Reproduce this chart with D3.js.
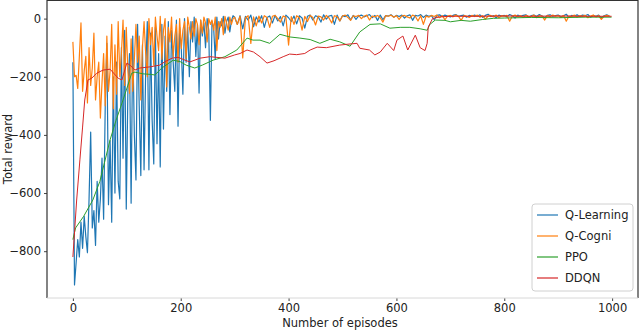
<!DOCTYPE html>
<html>
<head>
<meta charset="utf-8">
<script src="https://cdn.jsdelivr.net/npm/d3@7"></script>
<style>
  body { margin: 0; background: #fff; }
  text { font-family: "DejaVu Sans", sans-serif; fill: #222; }
</style>
</head>
<body>
<div id="chart"></div>
<script>
var fineEpisodes = d3.range(0, 300, 3);
var coarseEpisodes = d3.range(300, 1000, 5);

var qLearningReward = [
  -150, -916, -840, -760, -820, -700, -790, -680, -750, -805,
  -620, -390, -720, -660, -780, -560, -700, -620, -480, -690,
  -300, -85, -640, -420, -700, -200, -600, -150, -560, -620,
  -100, -480, -40, -655, -250, -120, -635, -60, -400, -555,
  -20, -300, -540, -90, -520, -180, -10, -520, -50, -350,
  -500, -30, -430, -120, -510, -20, -380, -60, -250, -10,
  -330, -40, -150, -250, -5, -370, -30, -100, -260, 0,
  -150, -30, -200, -10, -80, 5, -130, -20, -256, -5,
  -60, -15, -100, 0, -40, -350, -10, -30, -140, 5,
  -70, -10, -25, 8, -50, -10, 5, -46, -8, 10,
  // 300 .. 995
  5, -20, 10, -35, 8, -5, 12, -28, 6, -12,
  10, -30, 4, 9, -15, 11, -8, 7, -25, 12,
  3, -10, 9, -18, 10, 2, -33, 8, 12, -5,
  10, 6, -12, 13, -2, 9, 11, -20, 12, -8,
  10, 7, 13, -5, 11, -3, 9, 12, 6, 10,
  14, 3, 11, -6, 12, -4, 10, 9, 13, 5,
  11, 7, 12, 2, 10, 13, -6, 11, 9, 14,
  4, 12, 8, 10, -4, 11, 13, 7, 12, 9,
  6, 11, 14, 8, 10, 12, 5, 11, 9, 12,
  8, 13, 4, 11, 15, 7, 10, 3, 12, 9,
  11, 6, 14, 10, 2, 12, 8, 11, 13, 5,
  10, 12, 7, 14, 9, 3, 11, 13, 8, 10,
  12, 6, 10, 15, 4, 11, 9, 13, 7, 12,
  10, 14, 5, 11, 8, 12, 2, 10, 13, 9
];

var qCogniReward = [
  -80, -200, -195, -240, -130, -15, -250, -180, -130, -290,
  -100, -230, -170, -50, -280, -200, -150, -342, -220, -120,
  -300, -60, -250, -180, -20, -310, -90, -260, -10, -200,
  -120, -5, -230, -30, -180, -257, -70, -250, -140, -20,
  -150, -60, -280, -100, -10, -120, -200, 0, -90, -30,
  -160, 5, -60, -110, 8, -140, -40, 0, -235, -30,
  -80, 5, -130, -60, -20, -150, 0, -103, -40, -10,
  -136, 5, -30, -70, -10, -60, 0, -20, -90, -5,
  -50, 5, -15, -80, 0, -20, -5, -40, 5, -110,
  -10, -30, 0, -55, 8, -15, -40, 5, -20, 0,
  // 300 .. 995
  5, -20, 8, -135, 3, 10, -85, 6, -25, 9,
  -15, 10, 4, -30, 8, 11, 0, -12, 9, 5,
  -91, 7, -20, 10, 3, -40, 8, -10, 11, 4,
  -22, 9, 6, -5, 11, 2, -15, 10, 7, -8,
  9, 12, 4, -6, 10, 7, 11, 0, 8, 12,
  -5, 9, 6, 11, 3, -12, 10, 8, 12, 5,
  10, -3, 9, 11, 6, 2, 12, 8, -8, 10,
  -20, 9, 5, 11, 7, 12, 3, 10, -4, 9,
  11, 6, 12, 8, -6, 10, 9, 4, 11, 7,
  12, 5, 10, -2, 9, 11, 6, 12, 3, 10,
  8, 11, -9, 9, 12, 6, 10, 4, 11, 8,
  7, 12, 3, 10, 9, -5, 11, 6, 12, 8,
  10, 4, 11, -9, 9, 7, 12, 5, 10, 8,
  11, 3, 9, 12, 6, 10, -3, 8, 11, 9
];

var ppoEpisodes = [0, 5, 20, 37, 50, 69, 80, 93, 102, 109, 115, 130, 145, 152, 165, 186, 199, 210, 226, 240,
  260, 282, 304, 323, 334, 347, 365, 384, 402, 421, 440, 458, 477, 495, 514, 532, 551, 570, 588, 607,
  625, 644, 657, 662, 672, 690, 700, 720, 737, 760, 780, 800, 850, 900, 950, 999];
var ppoReward = [-760, -720, -680, -624, -560, -417, -350, -280, -229, -188, -184, -190, -192, -194, -170, -143, -148, -160, -170, -160,
  -143, -131, -108, -67, -74, -74, -85, -54, -63, -67, -72, -85, -71, -80, -95, -46, -20, -18, -33, -30,
  -30, -35, -40, -20, -5, -6, -11, -6, -9, -3, 1, 2, 4, 3, 5, 5];

var ddqnEpisodes = [0, 7, 13, 18, 22, 28, 35, 44, 56, 69, 84, 91, 100, 106, 115, 124, 143, 161, 170, 184,
  195, 208, 217, 236, 254, 282, 300, 310, 323, 335, 347, 360, 373, 390, 402, 415, 430, 440, 453, 470,
  495, 510, 527, 532, 550, 560, 570, 583, 595, 601, 612, 621, 635, 644, 653, 657, 659, 667, 680, 700,
  750, 800, 850, 900, 950, 999];
var ddqnReward = [-820, -624, -486, -373, -280, -211, -205, -188, -177, -174, -205, -211, -153, -160, -177, -170, -166, -160, -149, -136,
  -133, -143, -149, -136, -131, -136, -125, -120, -108, -115, -131, -153, -145, -131, -122, -124, -120, -108, -98, -100,
  -91, -88, -85, -102, -108, -125, -115, -85, -110, -74, -60, -108, -57, -100, -110, -85, -29, 0, 6, 8,
  8, 9, 8, 9, 8, 8];

var seriesNames = ['Q-Learning', 'Q-Cogni', 'PPO', 'DDQN'];
var seriesColors = ['#1f77b4', '#ff7f0e', '#2ca02c', '#d62728'];
var xTicks = [0, 200, 400, 600, 800, 1000];
var yTicks = [-800, -600, -400, -200, 0];

var svgWidth = 640;
var svgHeight = 331;
var margin = { top: 1, right: 2, bottom: 33, left: 47 };

var svg = d3.select('#chart')
  .append('svg')
  .attr('width', svgWidth)
  .attr('height', svgHeight);

var xScale = d3.scaleLinear().domain([-48, 1048]).range([margin.left, svgWidth - margin.right]);
var yScale = d3.scaleLinear().domain([-961, 64]).range([svgHeight - margin.bottom, 0]);

var noisyEpisodes = fineEpisodes.concat(coarseEpisodes);
var allSeries = [
  noisyEpisodes.map(function (e, i) { return [e, qLearningReward[i]]; }),
  noisyEpisodes.map(function (e, i) { return [e, qCogniReward[i]]; }),
  ppoEpisodes.map(function (e, i) { return [e, ppoReward[i]]; }),
  ddqnEpisodes.map(function (e, i) { return [e, ddqnReward[i]]; })
];

var line = d3.line()
  .x(function (d) { return xScale(d[0]); })
  .y(function (d) { return yScale(d[1]); });

svg.append('g')
  .selectAll('path')
  .data(allSeries)
  .enter()
  .append('path')
  .attr('d', line)
  .attr('fill', 'none')
  .attr('stroke', function (d, i) { return seriesColors[i]; })
  .attr('stroke-width', function (d, i) { return i < 2 ? 1.2 : 1; })
  .attr('stroke-linejoin', 'round');

// axes
var bottomAxis = d3.axisBottom(xScale).tickValues(xTicks).tickFormat(d3.format('d')).tickSize(3).tickSizeOuter(0);
var leftAxis = d3.axisLeft(yScale).tickValues(yTicks).tickFormat(d3.format('d')).tickSize(3).tickSizeOuter(0);

var gx = svg.append('g')
  .attr('transform', 'translate(0,' + (svgHeight - margin.bottom) + ')')
  .call(bottomAxis);
var gy = svg.append('g')
  .attr('transform', 'translate(' + margin.left + ',0)')
  .call(leftAxis);

[gx, gy].forEach(function (g) {
  g.select('.domain').remove();
  g.selectAll('.tick line').attr('stroke', '#444');
  g.selectAll('.tick text').attr('font-size', '11.5px').attr('fill', '#222').style('font-family', '"DejaVu Sans", sans-serif');
});
gx.selectAll('.tick text').attr('y', 6);

// frame
var x0 = margin.left, x1 = svgWidth - margin.right, y0 = margin.top - 0.5, y1 = svgHeight - margin.bottom;
svg.append('path')
  .attr('d', 'M' + x0 + ',' + y1 + 'V' + y0 + 'H' + x1 + 'V' + y1)
  .attr('fill', 'none').attr('stroke', '#333').attr('stroke-width', 1.2);
svg.append('line')
  .attr('x1', x0).attr('x2', x1).attr('y1', y1).attr('y2', y1)
  .attr('stroke', '#d8d8d8').attr('stroke-width', 1);

// axis labels
svg.append('text')
  .attr('x', 340).attr('y', 327)
  .attr('text-anchor', 'middle')
  .attr('font-size', '11.5px')
  .text('Number of episodes');

svg.append('text')
  .attr('transform', 'translate(12,149) rotate(-90)')
  .attr('text-anchor', 'middle')
  .attr('font-size', '11.5px')
  .text('Total reward');

// legend
var legend = svg.append('g').attr('transform', 'translate(532,204)');
legend.append('rect')
  .attr('width', 101).attr('height', 87)
  .attr('rx', 3)
  .attr('fill', '#fff').attr('fill-opacity', 0.85)
  .attr('stroke', '#d0d0d0');
var entries = legend.selectAll('.entry')
  .data(seriesNames)
  .enter()
  .append('g')
  .attr('transform', function (d, i) { return 'translate(0,' + (11 + i * 21) + ')'; });
entries.append('line')
  .attr('x1', 5).attr('x2', 26)
  .attr('stroke', function (d, i) { return seriesColors[i]; })
  .attr('stroke-width', 1.2);
entries.append('text')
  .attr('x', 33).attr('dy', '0.35em')
  .attr('font-size', '11.5px')
  .text(function (d) { return d; });
</script>
</body>
</html>
